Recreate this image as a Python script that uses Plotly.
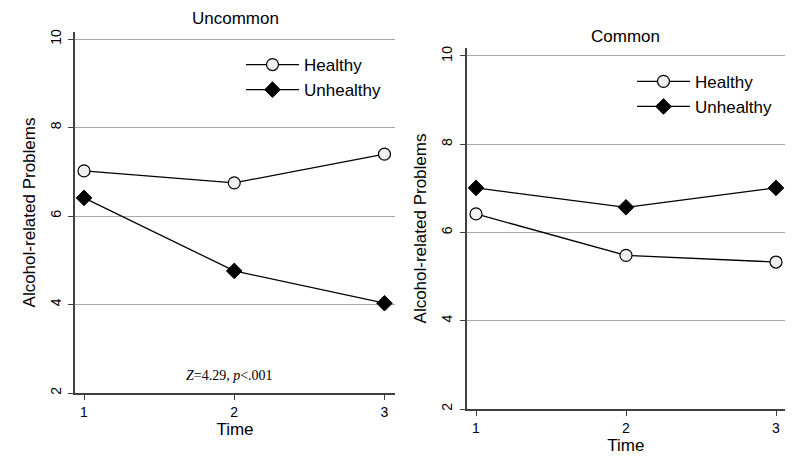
import plotly.graph_objects as go

# Data
time = [1, 2, 3]
uncommon_healthy = [7.02, 6.75, 7.40]
uncommon_unhealthy = [6.41, 4.76, 4.03]
common_healthy = [6.42, 5.48, 5.33]
common_unhealthy = [7.01, 6.57, 7.01]
y_ticks = [2, 4, 6, 8, 10]

sans = "Liberation Sans, Arial, sans-serif"
serif = "Liberation Serif, Times New Roman, serif"

# page has an 8px body margin, so convert screen pixels to paper coords
W, H, OFF = 800, 467, 8
def px_x(p):
    return (p - OFF) / W
def px_y(p):
    return 1 - (p - OFF) / H

healthy_marker = dict(symbol="circle", size=12, color="#f0f0f0",
                      line=dict(color="black", width=1.2))
unhealthy_marker = dict(symbol="diamond", size=12, color="black",
                        line=dict(color="black", width=1))
line_style = dict(color="black", width=1.3)

fig = go.Figure()

# Uncommon panel
fig.add_trace(go.Scatter(x=time, y=uncommon_healthy, mode="lines+markers",
                         name="Healthy", line=line_style, marker=healthy_marker,
                         xaxis="x", yaxis="y", legend="legend"))
fig.add_trace(go.Scatter(x=time, y=uncommon_unhealthy, mode="lines+markers",
                         name="Unhealthy", line=line_style, marker=unhealthy_marker,
                         xaxis="x", yaxis="y", legend="legend"))

# Common panel
fig.add_trace(go.Scatter(x=time, y=common_healthy, mode="lines+markers",
                         name="Healthy", line=line_style, marker=healthy_marker,
                         xaxis="x2", yaxis="y2", legend="legend2"))
fig.add_trace(go.Scatter(x=time, y=common_unhealthy, mode="lines+markers",
                         name="Unhealthy", line=line_style, marker=unhealthy_marker,
                         xaxis="x2", yaxis="y2", legend="legend2"))

xaxis_common = dict(
    tickvals=time, ticks="outside", ticklen=5, tickcolor="#404040",
    showline=True, linecolor="#404040", linewidth=1.5, showgrid=False,
    zeroline=False, tickfont=dict(family=sans, size=14, color="black"),
    title=dict(text="Time", font=dict(family=sans, size=17, color="black"), standoff=0),
    automargin=False,
)
yaxis_common = dict(
    tickvals=y_ticks, ticks="outside", ticklen=5, tickcolor="#404040",
    tickangle=-90, ticklabelstandoff=2, showline=True, linecolor="#404040", linewidth=1.5,
    showgrid=True, gridcolor="#a8a8a8", gridwidth=1.3, zeroline=False,
    tickfont=dict(family=sans, size=14, color="black"),
    title=dict(text="Alcohol-related Problems", font=dict(family=sans, size=17, color="black"),
               standoff=8),
    automargin=False,
)

legend_style = dict(xanchor="left", yanchor="middle",
                    font=dict(family=sans, size=17, color="black"),
                    bgcolor="rgba(0,0,0,0)", itemwidth=53)

fig.update_layout(
    width=W, height=H,
    margin=dict(l=0, r=0, t=0, b=0),
    paper_bgcolor="white", plot_bgcolor="white",
    xaxis=dict(xaxis_common, domain=[px_x(75), px_x(395)], range=[0.94, 3.07], anchor="y"),
    yaxis=dict(yaxis_common, domain=[px_y(393), px_y(32)], range=[2, 10.16], anchor="x"),
    xaxis2=dict(xaxis_common, domain=[px_x(466.7), px_x(785)], range=[0.938, 3.06], anchor="y2"),
    yaxis2=dict(yaxis_common, domain=[px_y(409), px_y(48)], range=[2, 10.18], anchor="x2"),
    legend=dict(legend_style, x=px_x(241), y=px_y(77.5)),
    legend2=dict(legend_style, x=px_x(632), y=px_y(94.3)),
    annotations=[
        dict(text="Uncommon", xref="x domain", yref="paper", x=0.5, y=px_y(19),
             yanchor="middle", showarrow=False, font=dict(family=sans, size=17, color="black")),
        dict(text="Common", xref="x2 domain", yref="paper", x=0.5, y=px_y(36),
             yanchor="middle", showarrow=False, font=dict(family=sans, size=17, color="black")),
        dict(text="<i>Z</i>=4.29, <i>p</i>&lt;.001", xref="x", yref="y", x=1.97, y=2.4,
             yanchor="middle", showarrow=False, font=dict(family=serif, size=14, color="black")),
    ],
)

fig.write_html("out.html")
